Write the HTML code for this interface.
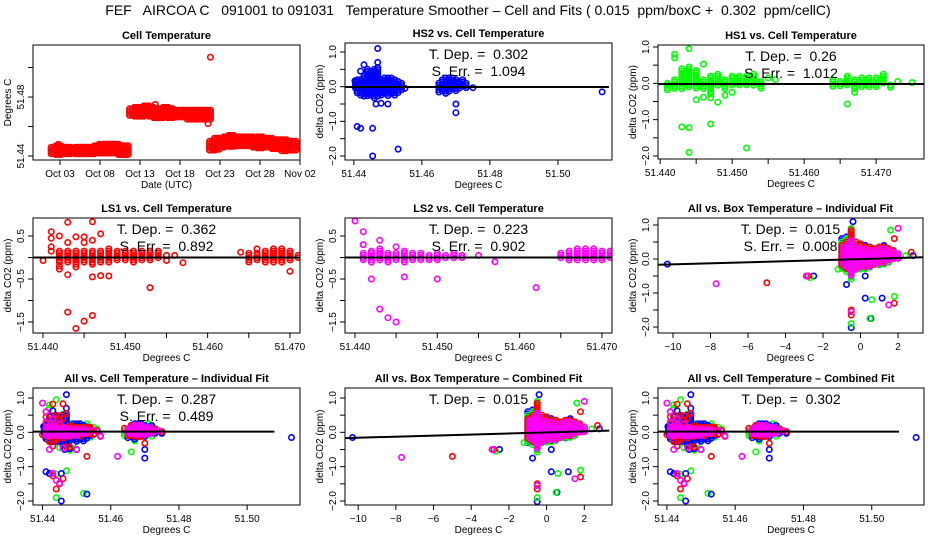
<!DOCTYPE html>
<html><head><meta charset="utf-8">
<style>
html,body{margin:0;padding:0;background:#fff;}
svg{display:block;font-family:"Liberation Sans",Arial,sans-serif;}
</style></head>
<body>
<svg id="c" width="936" height="540" viewBox="0 0 936 540" xmlns="http://www.w3.org/2000/svg">
<text x="468" y="15" font-size="14" text-anchor="middle" style="white-space:pre" xml:space="preserve">FEF   AIRCOA C   091001 to 091031   Temperature Smoother – Cell and Fits ( 0.015  ppm/boxC +  0.302  ppm/cellC)</text>
</svg>
<script>
// ---------- DATA ----------
const cellTempCols = [[1.2,51.441,51.446],[1.8,51.441,51.447],[2.4,51.441,51.446],[3,51.441,51.446],[3.6,51.441,51.445],[4.2,51.441,51.446],[4.8,51.441,51.446],[5.4,51.441,51.446],[6,51.441,51.446],[6.6,51.442,51.447],[7.2,51.442,51.448],[7.8,51.442,51.448],[8.4,51.442,51.448],[9,51.441,51.448],[9.6,51.441,51.447],[10.2,51.441,51.447],
[11,51.467,51.472],[11.6,51.467,51.473],[12.2,51.467,51.473],[12.8,51.467,51.474],[13.4,51.466,51.473],[14,51.466,51.472],[14.6,51.466,51.472],[15.2,51.466,51.473],[15.8,51.466,51.472],[16.4,51.466,51.471],[17,51.466,51.471],[17.6,51.466,51.471],[18.2,51.465,51.471],[18.8,51.465,51.471],[19.4,51.465,51.471],[20,51.465,51.471],[20.5,51.465,51.471],
[21,51.443,51.450],[21.6,51.444,51.452],[22.2,51.445,51.452],[22.8,51.446,51.453],[23.4,51.446,51.454],[24,51.446,51.453],[24.6,51.446,51.453],[25.2,51.446,51.453],[25.8,51.446,51.453],[26.4,51.446,51.452],[27,51.445,51.453],[27.6,51.445,51.452],[28.2,51.445,51.452],[28.8,51.444,51.451],[29.4,51.444,51.451],[30,51.443,51.451],[30.6,51.443,51.450],[31.2,51.443,51.450]];
const cellTempPts = [[1.8,51.448],[20.5,51.462],[20.8,51.507],[13.9,51.475]];

const hs2Cols = [[51.4405,-0.1,0.15],[51.441,-0.2,0.2],[51.442,-0.25,0.2],[51.443,-0.3,0.3],[51.444,-0.3,0.5],[51.445,-0.3,0.45],[51.446,-0.35,0.5],[51.447,-0.3,0.55],[51.448,-0.3,0.2],[51.449,-0.25,0.25],[51.450,-0.3,0.25],[51.451,-0.2,0.25],[51.452,-0.25,0.2],[51.453,-0.2,0.15],[51.454,-0.1,0.1],[51.465,-0.2,0.1],[51.466,-0.15,0.2],[51.467,-0.2,0.25],[51.468,-0.15,0.25],[51.469,-0.1,0.25],[51.470,-0.15,0.2],[51.471,-0.1,0.15],[51.472,-0.05,0.2],[51.473,-0.05,0.1]];
const hs2Pts = [[51.513,-0.15],[51.447,1.1],[51.447,0.7],[51.443,0.63],[51.442,0.45],[51.441,-1.15],[51.442,-1.2],[51.4455,-1.2],[51.4455,-2.0],[51.453,-1.8],[51.470,-0.5],[51.470,-0.75],[51.4465,-0.5],[51.448,-0.48],[51.450,-0.5],[51.455,-0.05],[51.475,-0.03],[51.4403,0.17]];

const hs1Cols = [[51.441,-0.2,0.0],[51.442,-0.15,0.1],[51.443,-0.15,0.4],[51.444,-0.1,0.45],[51.445,-0.15,0.35],[51.446,-0.15,0.1],[51.447,-0.3,0.2],[51.448,-0.1,0.25],[51.449,-0.15,0.1],[51.450,-0.1,0.2],[51.451,-0.1,0.2],[51.452,-0.1,0.2],[51.453,-0.1,0.25],[51.454,-0.15,0.05],[51.464,-0.1,0.1],[51.465,-0.1,0.05],[51.466,-0.1,0.2],[51.467,-0.2,0.1],[51.468,-0.1,0.15],[51.469,-0.15,0.15],[51.470,-0.1,0.15],[51.471,-0.05,0.25],[51.472,-0.15,-0.05],[51.473,0,0.05]];
const hs1Pts = [[51.442,0.8],[51.442,0.7],[51.444,0.95],[51.446,0.53],[51.445,-0.45],[51.446,-0.38],[51.447,-0.4],[51.448,-0.52],[51.449,-0.33],[51.450,-0.25],[51.443,-1.2],[51.444,-1.22],[51.447,-1.12],[51.444,-1.9],[51.452,-1.78],[51.466,-0.57],[51.467,-0.25],[51.455,0.15],[51.456,0.1],[51.475,0.02]];

const ls1Cols = [[51.442,-0.15,0.15],[51.443,-0.15,0.15],[51.444,-0.2,0.15],[51.445,-0.15,0.15],[51.446,-0.2,0.15],[51.447,-0.15,0.15],[51.448,-0.15,0.2],[51.449,-0.1,0.15],[51.450,-0.1,0.15],[51.451,-0.15,0.15],[51.452,-0.1,0.15],[51.453,-0.1,0.15],[51.454,-0.05,0.15],[51.465,-0.15,0.1],[51.466,-0.1,0.1],[51.467,-0.15,0.15],[51.468,-0.15,0.2],[51.469,-0.15,0.2],[51.470,-0.1,0.15],[51.471,-0.05,0.05],[51.472,-0.05,0.05]];
const ls1Pts = [[51.440,-0.07],[51.441,0.6],[51.441,0.45],[51.441,0.25],[51.441,0.15],[51.442,0.5],[51.442,-0.2],[51.442,-0.27],[51.443,0.82],[51.443,0.35],[51.443,-0.4],[51.443,-1.27],[51.444,0.48],[51.444,-0.22],[51.444,-1.65],[51.445,0.48],[51.445,0.35],[51.445,-1.48],[51.446,0.83],[51.446,0.4],[51.446,-0.45],[51.446,-1.35],[51.447,0.55],[51.447,-0.42],[51.448,-0.43],[51.453,-0.7],[51.455,0.05],[51.455,-0.07],[51.456,0.05],[51.457,-0.12],[51.470,-0.32],[51.475,0.02],[51.473,0.1],[51.466,0.2],[51.464,0.12]];

const ls2Cols = [[51.441,-0.1,0.1],[51.442,-0.15,0.15],[51.443,-0.1,0.2],[51.444,-0.15,0.1],[51.445,-0.1,0.1],[51.446,-0.15,0.15],[51.447,-0.1,0.1],[51.448,-0.1,0.1],[51.449,-0.1,0.05],[51.450,-0.1,0.1],[51.451,-0.05,0.05],[51.452,-0.05,0.1],[51.453,-0.05,0.05],[51.465,-0.05,0.1],[51.466,-0.1,0.15],[51.467,-0.1,0.2],[51.468,-0.1,0.2],[51.469,-0.1,0.2],[51.470,-0.1,0.15],[51.471,-0.05,0.15],[51.472,-0.05,0.1]];
const ls2Pts = [[51.440,0.85],[51.441,0.6],[51.441,0.3],[51.442,-0.5],[51.443,0.4],[51.443,-1.2],[51.444,-1.4],[51.445,0.25],[51.445,-1.5],[51.446,-0.45],[51.450,-0.5],[51.462,-0.7],[51.474,0.05],[51.455,0.05],[51.457,-0.1]];

const boxBlueCols = [[-1,-0.3,0.6],[-0.75,-0.3,0.65],[-0.5,-0.35,0.5],[-0.25,-0.3,0.4],[0,-0.25,0.4],[0.25,-0.3,0.4],[0.5,-0.25,0.35],[0.75,-0.2,0.3],[1,-0.2,0.35],[1.25,-0.15,0.4],[1.5,-0.1,0.3],[1.75,-0.05,0.2],[2,0,0.15]];
const boxBluePts = [[-10.3,-0.15],[-0.75,-0.75],[0.25,-0.5],[0.25,-1.15],[1.15,-1.15],[0.55,-1.75],[-0.5,-2.02],[-0.4,1.1],[-2.5,-0.5],[2.8,0.1]];
const boxGreenCols = [[-1,-0.3,0.5],[-0.75,-0.4,0.6],[-0.5,-0.6,0.9],[-0.25,-0.35,0.4],[0,-0.3,0.35],[0.25,-0.3,0.3],[0.5,-0.25,0.3],[0.75,-0.2,0.3],[1,-0.15,0.3],[1.25,-0.15,0.3],[1.5,-0.1,0.25],[1.75,-0.05,0.2],[2,0,0.15]];
const boxGreenPts = [[-2.7,-0.55],[-1.2,-0.3],[0.6,-1.2],[0.5,-1.75],[-0.5,-1.9],[1.6,0.85],[1.8,-1.1],[2.4,0.1]];
const boxRedCols = [[-1,-0.2,0.4],[-0.75,-0.3,0.5],[-0.5,-0.4,0.85],[-0.25,-0.3,0.5],[0,-0.25,0.45],[0.25,-0.25,0.35],[0.5,-0.2,0.35],[0.75,-0.15,0.3],[1,-0.15,0.35],[1.25,-0.1,0.35],[1.5,-0.05,0.3],[1.75,0,0.25],[2,0,0.15]];
const boxRedPts = [[-5,-0.7],[-2.8,-0.5],[-0.5,-1.65],[-0.5,-1.5],[1.8,0.6],[2.7,0.2],[1.8,-1.3]];
const boxMagCols = [[-0.9,-0.2,0.35],[-0.7,-0.3,0.4],[-0.5,-0.5,0.55],[-0.25,-0.3,0.35],[0,-0.25,0.3],[0.25,-0.25,0.3],[0.5,-0.2,0.25],[0.75,-0.15,0.25],[1,-0.1,0.3],[1.25,-0.1,0.3],[1.5,-0.05,0.25],[1.75,0,0.2],[2,0,0.15]];
const boxMagPts = [[-7.7,-0.73],[-2.9,-0.5],[-0.5,-1.55],[1.5,-1.35],[2.0,0.9]];

const fitHS2 = [51.4374,-0.01,51.515,-0.01];
const fitHS1 = [51.4397,-0.02,51.4766,-0.02];
const fitLS1 = [51.4388,0.0,51.4712,0.0];
const fitLS2 = [51.4388,0.0,51.4712,0.0];
const fitBoxInd = [-10.8,-0.17,3.33,0.05];
const fitCellInd = [51.4372,0.02,51.508,0.02];
const fitBoxComb = [-10.8,-0.17,3.33,0.05];
const fitCellComb = [51.4372,0.02,51.508,0.02];

const dateTicks = [2,7,12,17,22,27,32];
const dateLabels = ["Oct 03","Oct 08","Oct 13","Oct 18","Oct 23","Oct 28","Nov 02"];
const cellYTicks = [51.44,51.46,51.48,51.50];
const cellYLabels = ["51.44","","51.48",""];
const wideXTicks = [51.44,51.46,51.48,51.50];
const wideXLabels = ["51.44","51.46","51.48","51.50"];
const fineXTicks = [51.440,51.445,51.450,51.455,51.460,51.465,51.470];
const fineXLabels = ["51.440","","51.450","","51.460","","51.470"];
const boxXTicks = [-10,-8,-6,-4,-2,0,2];
const boxXLabels = ["−10","−8","−6","−4","−2","0","2"];
const dYTicks = [1,0.5,0,-0.5,-1,-1.5,-2];
const dYLabels = ["1.0","","0.0","","−1.0","","−2.0"];
const lsYTicks = [0.5,0,-0.5,-1,-1.5];
const lsYLabels = ["0.5","","−0.5","","−1.5"];

// ---------- RENDERING ----------
const svg = document.getElementById('c');
const NS = 'http://www.w3.org/2000/svg';
const COL = {red:'#ff0000',blue:'#0000ff',green:'#00ff00',mag:'#ff00ff'};
let clipN = 0;
function mk(tag, attrs, parent){
  const e = document.createElementNS(NS, tag);
  for (const k in attrs) e.setAttribute(k, attrs[k]);
  (parent||svg).appendChild(e);
  return e;
}
function panel(p){
  const g = mk('g',{});
  
  
  const sx = v => p.L + (v - p.xd[0])/(p.xd[1]-p.xd[0])*(p.R-p.L);
  const sy = v => p.B - (v - p.yd[0])/(p.yd[1]-p.yd[0])*(p.B-p.T);
  const t = mk('text',{x:(p.L+p.R)/2,y:p.T-6,'font-size':11,'font-weight':'bold','text-anchor':'middle'},g);
  t.textContent = p.title;
  
  
  const id = 'cl'+(clipN++);
  const cp = mk('clipPath',{id:id},g);
  mk('rect',{x:p.L,y:p.T,width:p.R-p.L,height:p.B-p.T},cp);
  const pg = mk('g',{'clip-path':'url(#'+id+')'},g);
  
  
  const offs = p.spread ? [-2.5,0,2.5] : [0];
  p.series.forEach(s=>{
    const sg = mk('g',{fill:'none',stroke:COL[s.c],'stroke-width':1.6},pg);
    
    
    (s.cols||[]).forEach(cd=>{
      const x = sx(cd[0]); const y0 = sy(cd[2]), y1 = sy(cd[1]);
      offs.forEach(o=>{
        for (let y=y0; y<=y1+0.1; y+=2.2){
          const c = mk('circle',{cx:(x+o).toFixed(1),cy:y.toFixed(1),r:2.7},sg);
          
          
        }
      });
    });
    (s.pts||[]).forEach(pt=>{
      const c = mk('circle',{cx:sx(pt[0]).toFixed(1),cy:sy(pt[1]).toFixed(1),r:2.7},sg);
      
      
    });
  });
  if (p.fit){
    const f = p.fit;
    const ln = mk('line',{x1:sx(f[0]),y1:sy(f[1]),x2:sx(f[2]),y2:sy(f[3]),stroke:'#000','stroke-width':2},pg);
    
    
  }
  const bx = mk('rect',{x:p.L,y:p.T,width:p.R-p.L,height:p.B-p.T,fill:'none',stroke:'#000','stroke-width':1},g);
  
  
  p.xt.forEach((v,i)=>{
    const x = sx(v);
    mk('line',{x1:x,y1:p.B,x2:x,y2:p.B+5,stroke:'#000'},g);
    if (p.xl[i]){
      const tx = mk('text',{x:x,y:p.B+17,'font-size':10,'text-anchor':'middle'},g);
      tx.textContent = p.xl[i];
      
      
    }
  });
  p.yt.forEach((v,i)=>{
    const y = sy(v);
    mk('line',{x1:p.L-5,y1:y,x2:p.L,y2:y,stroke:'#000'},g);
    if (p.yl[i]){
      const tx = mk('text',{x:0,y:0,'font-size':10,'text-anchor':'middle',transform:`translate(${p.L-9},${y}) rotate(-90)`},g);
      tx.textContent = p.yl[i];
      
      
    }
  });
  const xt = mk('text',{x:(p.L+p.R)/2,y:p.B+28,'font-size':10,'text-anchor':'middle'},g);
  xt.textContent = p.xlab;
  
  
  const yt = mk('text',{x:0,y:0,'font-size':10,'text-anchor':'middle',transform:`translate(${p.L-22},${(p.T+p.B)/2}) rotate(-90)`},g);
  yt.textContent = p.ylab;
  
  
  (p.stats||[]).forEach((s,i)=>{
    const st = mk('text',{x:(p.L+p.R)/2,y:p.T+16+i*17,'font-size':14,'text-anchor':'middle','xml:space':'preserve',style:'white-space:pre'},g);
    st.textContent = s;
    
    
  });
}
const DY = "delta CO2 (ppm)", DC = "Degrees C";
const allCell = [{c:'green',cols:hs1Cols,pts:hs1Pts},{c:'blue',cols:hs2Cols,pts:hs2Pts},{c:'red',cols:ls1Cols,pts:ls1Pts},{c:'mag',cols:ls2Cols,pts:ls2Pts}];
const allBox = [{c:'blue',cols:boxBlueCols,pts:boxBluePts},{c:'green',cols:boxGreenCols,pts:boxGreenPts},{c:'red',cols:boxRedCols,pts:boxRedPts},{c:'mag',cols:boxMagCols,pts:boxMagPts}];

panel({name:'cell-temperature-panel',title:'Cell Temperature',L:33,T:45,R:300,B:160,xd:[-1.375,32],yd:[51.4373,51.5153],spread:true,
  xt:dateTicks,xl:dateLabels,yt:cellYTicks,yl:cellYLabels,xlab:'Date (UTC)',ylab:'Degrees C',
  series:[{c:'red',cols:cellTempCols,pts:cellTempPts}]});
panel({name:'hs2-panel',title:'HS2 vs. Cell Temperature',L:345,T:43,R:612,B:160,xd:[51.4374,51.5159],yd:[-2.115,1.26],
  xt:wideXTicks,xl:wideXLabels,yt:dYTicks,yl:dYLabels,xlab:DC,ylab:DY,stats:['T. Dep. =  0.302','S. Err. =  1.094'],fit:fitHS2,
  series:[{c:'blue',cols:hs2Cols,pts:hs2Pts}]});
panel({name:'hs1-panel',title:'HS1 vs. Cell Temperature',L:658,T:45,R:924,B:159,xd:[51.4397,51.47665],yd:[-2.083,1.055],
  xt:fineXTicks,xl:fineXLabels,yt:dYTicks,yl:dYLabels,xlab:DC,ylab:DY,stats:['T. Dep. =  0.26','S. Err. =  1.012'],fit:fitHS1,
  series:[{c:'green',cols:hs1Cols,pts:hs1Pts}]});
panel({name:'ls1-panel',title:'LS1 vs. Cell Temperature',L:33,T:218,R:300,B:333,xd:[51.43879,51.47122],yd:[-1.756,0.919],
  xt:fineXTicks,xl:fineXLabels,yt:lsYTicks,yl:lsYLabels,xlab:DC,ylab:DY,stats:['T. Dep. =  0.362','S. Err. =  0.892'],fit:fitLS1,
  series:[{c:'red',cols:ls1Cols,pts:ls1Pts}]});
panel({name:'ls2-panel',title:'LS2 vs. Cell Temperature',L:345,T:218,R:612,B:333,xd:[51.43879,51.47122],yd:[-1.756,0.919],
  xt:fineXTicks,xl:fineXLabels,yt:lsYTicks,yl:lsYLabels,xlab:DC,ylab:DY,stats:['T. Dep. =  0.223','S. Err. =  0.902'],fit:fitLS2,
  series:[{c:'mag',cols:ls2Cols,pts:ls2Pts}]});
panel({name:'all-box-individual-panel',title:'All vs. Box Temperature – Individual Fit',L:658,T:218,R:923,B:333,xd:[-10.8,3.33],yd:[-2.176,1.206],
  xt:boxXTicks,xl:boxXLabels,yt:dYTicks,yl:dYLabels,xlab:DC,ylab:DY,stats:['T. Dep. =  0.015','S. Err. =  0.008'],fit:fitBoxInd,
  series:allBox});
panel({name:'all-cell-individual-panel',title:'All vs. Cell Temperature – Individual Fit',L:33,T:388,R:300,B:505,xd:[51.4372,51.5155],yd:[-2.117,1.291],
  xt:wideXTicks,xl:wideXLabels,yt:dYTicks,yl:dYLabels,xlab:DC,ylab:DY,stats:['T. Dep. =  0.287','S. Err. =  0.489'],fit:fitCellInd,
  series:allCell});
panel({name:'all-box-combined-panel',title:'All vs. Box Temperature – Combined Fit',L:345,T:388,R:612,B:505,xd:[-10.7,3.47],yd:[-2.117,1.291],
  xt:boxXTicks,xl:boxXLabels,yt:dYTicks,yl:dYLabels,xlab:DC,ylab:DY,stats:['T. Dep. =  0.015'],fit:fitBoxComb,
  series:allBox});
panel({name:'all-cell-combined-panel',title:'All vs. Cell Temperature – Combined Fit',L:658,T:388,R:924,B:505,xd:[51.4374,51.5153],yd:[-2.117,1.291],
  xt:wideXTicks,xl:wideXLabels,yt:dYTicks,yl:dYLabels,xlab:DC,ylab:DY,stats:['T. Dep. =  0.302'],fit:fitCellComb,
  series:allCell});
</script>
</body></html>
